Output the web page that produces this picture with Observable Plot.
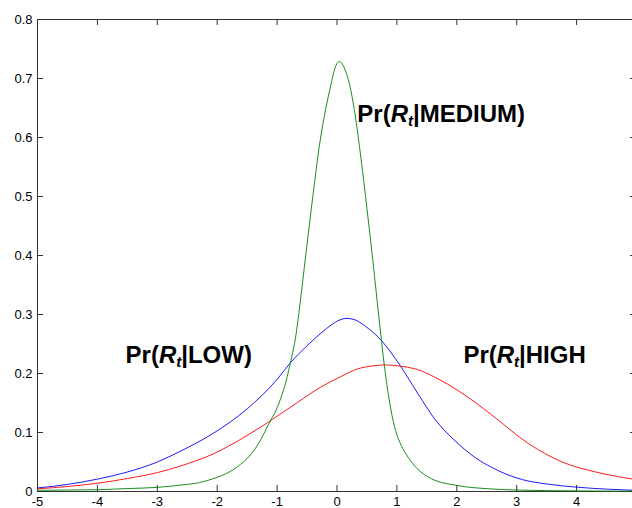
<!DOCTYPE html>
<html><head><meta charset="utf-8">
<script src="https://cdn.jsdelivr.net/npm/d3@7"></script>
<script src="https://cdn.jsdelivr.net/npm/@observablehq/plot@0.6"></script>
<style>html,body{margin:0;padding:0;background:#fff;overflow:hidden} svg{display:block}</style>
</head><body><div id="chart"></div>
<script>
// Pr(R_t | LOW)  (blue)
const xLow = [-5, -4.5, -4, -3.5, -3, -2.62, -2.06, -1.5, -1.0, -0.77, -0.5, -0.25, -0.1, 0.05, 0.15, 0.3, 0.46, 0.6, 0.74, 1.05, 1.35, 1.63, 1.97, 2.3, 2.58, 2.81, 3.1, 3.48, 4.01, 4.5, 5];
const yLow = [0.006, 0.012, 0.021, 0.033, 0.050, 0.068, 0.099, 0.140, 0.190, 0.219, 0.247, 0.270, 0.282, 0.291, 0.2935, 0.291, 0.281, 0.270, 0.256, 0.214, 0.166, 0.123, 0.086, 0.058, 0.041, 0.030, 0.020, 0.013, 0.0073, 0.004, 0.002];
// Pr(R_t | MEDIUM)  (green)
const xMed = [-5, -4.5, -4, -3.5, -3, -2.6, -2.3, -2.06, -1.8, -1.61, -1.5, -1.33, -1.2, -1.1, -1.02, -0.95, -0.85, -0.77, -0.69, -0.62, -0.52, -0.40, -0.30, -0.21, -0.10, -0.045, 0.04, 0.13, 0.21, 0.30, 0.40, 0.50, 0.60, 0.70, 0.79, 0.88, 0.96, 1.05, 1.15, 1.3, 1.58, 2.02, 2.53, 3.0, 3.5, 4.0, 4.5, 5];
const yMed = [0.002, 0.0025, 0.003, 0.005, 0.007, 0.011, 0.015, 0.022, 0.033, 0.046, 0.056, 0.078, 0.102, 0.122, 0.137, 0.155, 0.187, 0.222, 0.262, 0.316, 0.402, 0.503, 0.582, 0.637, 0.690, 0.714, 0.729, 0.716, 0.690, 0.640, 0.565, 0.480, 0.390, 0.295, 0.214, 0.150, 0.110, 0.083, 0.064, 0.043, 0.0215, 0.010, 0.0046, 0.0025, 0.0015, 0.001, 0.0007, 0.0005];
// Pr(R_t | HIGH)  (red)
const xHigh = [-5, -4.5, -4, -3.5, -3, -2.62, -2.06, -1.5, -1.08, -0.66, -0.27, 0.07, 0.35, 0.6, 0.82, 1.05, 1.3, 1.74, 2.14, 2.58, 3.2, 3.76, 4.32, 5];
const yHigh = [0.0045, 0.0085, 0.014, 0.022, 0.032, 0.043, 0.064, 0.095, 0.122, 0.151, 0.177, 0.195, 0.208, 0.213, 0.2145, 0.2125, 0.208, 0.188, 0.163, 0.130, 0.081, 0.050, 0.033, 0.020];

const xTicks = [-5, -4, -3, -2, -1, 0, 1, 2, 3, 4, 5];
const yTicks = [0, 0.1, 0.2, 0.3, 0.4, 0.5, 0.6, 0.7, 0.8];

const labelText = ["Pr(R|LOW)", "Pr(R|MEDIUM)", "Pr(R|HIGH"];
const labelX = [-3.53, 0.34, 2.11];
const labelY = [0.230, 0.6385, 0.230];

const toRows = (xs, ys) => xs.map((x, i) => ({x, y: ys[i]}));
const low = toRows(xLow, yLow), med = toRows(xMed, yMed), high = toRows(xHigh, yHigh);
const notes = labelText.map((t, i) => ({t, x: labelX[i], y: labelY[i]}));

const W = 632, H = 508, mL = 37, mR = -4, mT = 19, mB = 17;
const innerW = W - mL - mR, innerH = H - mT - mB, tk = 6;
const axisColor = "#333";

const chart = Plot.plot({
  width: W, height: H,
  marginLeft: mL, marginRight: mR, marginTop: mT, marginBottom: mB,
  style: {fontFamily: "'Liberation Sans', Arial, sans-serif", fontSize: "13px", color: "#000", background: "#fff"},
  x: {domain: [-5, 5], label: null},
  y: {domain: [0, 0.8], label: null},
  marks: [
    Plot.frame({stroke: axisColor}),
    Plot.tickX(xTicks, {x: d => d, insetTop: innerH - tk, stroke: axisColor}),
    Plot.tickX(xTicks, {x: d => d, insetBottom: innerH - tk, stroke: axisColor}),
    Plot.tickY(yTicks, {y: d => d, insetRight: innerW - tk, stroke: axisColor}),
    Plot.tickY(yTicks, {y: d => d, insetLeft: innerW - tk, stroke: axisColor}),
    Plot.axisX(xTicks, {tickSize: 0, tickPadding: 5, fontSize: 13, tickFormat: d => String(d), fill: "#000", label: null}),
    Plot.axisY(yTicks, {tickSize: 0, tickPadding: 5, fontSize: 13, tickFormat: d => String(d), fill: "#000", label: null}),
    Plot.line(low, {x: "x", y: "y", stroke: "#0000ff", strokeWidth: 0.9, curve: "monotone-x"}),
    Plot.line(high, {x: "x", y: "y", stroke: "#ff0000", strokeWidth: 0.9, curve: "monotone-x"}),
    Plot.line(med, {x: "x", y: "y", stroke: "#008000", strokeWidth: 0.9, curve: "monotone-x"}),
    Plot.text(notes, {x: "x", y: "y", text: "t", textAnchor: "start", fontSize: 24, fontWeight: "bold", fill: "#000"})
  ]
});

// rich text: italic R with italic subscript t
chart.querySelectorAll("text").forEach(el => {
  const s = el.textContent;
  if (!s.startsWith("Pr(R|")) return;
  const rest = s.slice(4);
  el.textContent = "";
  const ns = "http://www.w3.org/2000/svg";
  const add = (txt, attrs) => {
    const t = document.createElementNS(ns, "tspan");
    for (const k in attrs) t.setAttribute(k, attrs[k]);
    t.textContent = txt; el.appendChild(t);
  };
  add("Pr(", {});
  add("R", {"font-style": "italic"});
  add("t", {"font-style": "italic", "font-size": "15", "dy": "4"});
  add(rest, {"dy": "-4"});
});

document.getElementById("chart").appendChild(chart);
</script>
</body></html>
